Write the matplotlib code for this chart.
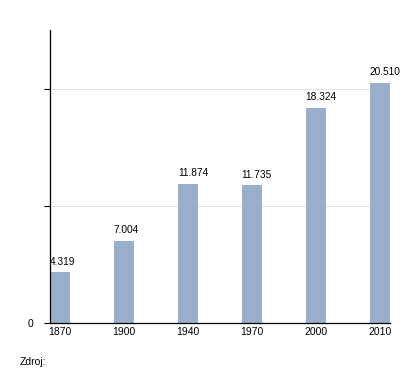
import matplotlib
matplotlib.use('Agg')
import matplotlib.pyplot as plt

years = ['1870', '1900', '1940', '1970', '2000', '2010']
population = [4319, 7004, 11874, 11735, 18324, 20510]
value_labels = ['4.319', '7.004', '11.874', '11.735', '18.324', '20.510']

plt.rcParams['font.family'] = ['Liberation Sans', 'DejaVu Sans']

fig = plt.figure(figsize=(4.2, 3.73), dpi=100)
ax = fig.add_axes([50/420, 50/373, 340/420, 293/373])

xs = range(len(years))
bw = 0.32
ax.bar(xs, population, width=bw, color='#98b0cc', zorder=2)
# value labels start at the bar's left edge
for x, v, lab in zip(xs, population, value_labels):
    ax.text(x - bw/2, v + 500, lab, ha='left', va='bottom', fontsize=7.3)

ax.set_xlim(-0.16, 5.16)
ax.set_ylim(0, 25000)
ax.set_xticks(list(xs))
ax.set_xticklabels(years, fontsize=7.5)
ax.set_yticks([0, 10000, 20000])
ax.set_yticklabels(['0', '', ''], fontsize=7.5)
ax.tick_params(axis='x', length=0, pad=3)
ax.tick_params(axis='y', length=4, width=0.8, pad=8)
for y in [10000, 20000]:
    ax.axhline(y, color='#e4e4e4', lw=0.8, zorder=1)
ax.spines['top'].set_visible(False)
ax.spines['right'].set_visible(False)
ax.spines['left'].set_linewidth(0.9)
ax.spines['bottom'].set_linewidth(0.9)

fig.text(20/420, 1 - 362/373, 'Zdroj:', fontsize=7.5, va='center')

fig.savefig('out.png', dpi=100)
